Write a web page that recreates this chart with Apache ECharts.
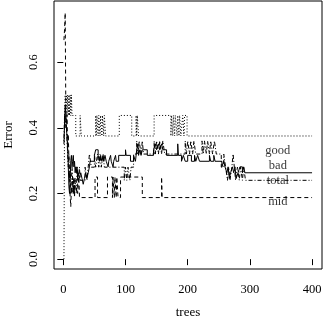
<!DOCTYPE html>
<html>
<head>
<meta charset="utf-8">
<script src="https://cdn.jsdelivr.net/npm/echarts@6/dist/echarts.min.js"></script>
<style>
  html, body { margin: 0; padding: 0; background: #fff; }
  #chart { width: 325px; height: 324px; }
</style>
</head>
<body>
<div id="chart"></div>
<script>
// change points [tree, error]: the value holds from this tree until the next point
const goodErr = [
  [1, 0], [2, 0.444], [3, 0.5], [4, 0.45], [5, 0.5], [6, 0.444], [7, 0.5], [8, 0.4375],
  [9, 0.5], [10, 0.4375], [11, 0.5], [12, 0.4375], [13, 0.5], [14, 0.4375], [20, 0.375],
  [27, 0.4375], [29, 0.375], [52, 0.4375], [53, 0.375], [54, 0.4375], [56, 0.375],
  [57, 0.4375], [59, 0.375], [60, 0.4375], [62, 0.375], [63, 0.4375], [65, 0.375],
  [66, 0.4375], [68, 0.375], [90, 0.4375], [110, 0.375], [117, 0.4375], [118, 0.375],
  [119, 0.4375], [121, 0.375], [146, 0.4375], [173, 0.375], [174, 0.4375], [176, 0.375],
  [177, 0.4375], [179, 0.375], [180, 0.4375], [183, 0.375], [184, 0.4375], [186, 0.375],
  [187, 0.4375], [189, 0.375], [192, 0.4375], [194, 0.375], [195, 0.4375], [199, 0.375],
  [400, 0.375]
]

const badErr = [
  [1, 0.35], [2, 0.42], [3, 0.47], [4, 0.44], [5, 0.4], [6, 0.37], [7, 0.33], [8, 0.28],
  [9, 0.22], [10, 0.2], [11, 0.24], [12, 0.3], [13, 0.316], [14, 0.281], [15, 0.298],
  [16, 0.316], [17, 0.281], [18, 0.298], [19, 0.263], [20, 0.281], [21, 0.263], [22, 0.281],
  [23, 0.246], [24, 0.263], [26, 0.246], [28, 0.263], [30, 0.246], [32, 0.228], [34, 0.246],
  [36, 0.263], [38, 0.246], [40, 0.263], [42, 0.281], [43, 0.298], [50, 0.316], [52, 0.333],
  [56, 0.316], [58, 0.298], [60, 0.316], [62, 0.298], [64, 0.316], [65, 0.298], [67, 0.316],
  [69, 0.298], [72, 0.281], [73, 0.298], [76, 0.316], [77, 0.298], [80, 0.281], [81, 0.298],
  [84, 0.316], [85, 0.298], [89, 0.316], [100, 0.333], [101, 0.316], [108, 0.298],
  [113, 0.316], [116, 0.298], [118, 0.333], [120, 0.351], [121, 0.316], [123, 0.333],
  [125, 0.316], [127, 0.333], [135, 0.316], [145, 0.333], [148, 0.351], [150, 0.333],
  [153, 0.351], [155, 0.333], [158, 0.351], [160, 0.333], [166, 0.316], [184, 0.351],
  [185, 0.316], [190, 0.298], [193, 0.316], [196, 0.298], [200, 0.316], [206, 0.298],
  [211, 0.316], [213, 0.298], [216, 0.316], [219, 0.298], [235, 0.316], [237, 0.298],
  [242, 0.316], [244, 0.298], [255, 0.281], [258, 0.298], [260, 0.281], [263, 0.263],
  [265, 0.281], [267, 0.246], [269, 0.263], [272, 0.281], [274, 0.263], [276, 0.281],
  [278, 0.246], [281, 0.263], [284, 0.281], [288, 0.263], [290, 0.281], [292, 0.263],
  [400, 0.263]
]

const totalErr = [
  [1, 0.36], [2, 0.44], [3, 0.4], [4, 0.44], [5, 0.4], [6, 0.36], [7, 0.32], [8, 0.28],
  [9, 0.32], [10, 0.24], [11, 0.28], [12, 0.2], [13, 0.24], [14, 0.28], [15, 0.24],
  [16, 0.2], [17, 0.24], [18, 0.2], [19, 0.24], [21, 0.2], [22, 0.28], [24, 0.24],
  [26, 0.28], [27, 0.24], [35, 0.28], [38, 0.24], [40, 0.28], [42, 0.32], [45, 0.28],
  [50, 0.32], [52, 0.28], [55, 0.32], [57, 0.28], [59, 0.32], [61, 0.28], [64, 0.32],
  [66, 0.28], [98, 0.24], [100, 0.28], [102, 0.24], [104, 0.28], [107, 0.24], [109, 0.28],
  [113, 0.32], [118, 0.36], [120, 0.32], [122, 0.36], [125, 0.32], [127, 0.36], [129, 0.32],
  [146, 0.36], [148, 0.32], [150, 0.36], [153, 0.32], [155, 0.36], [158, 0.32], [160, 0.36],
  [163, 0.32], [196, 0.36], [198, 0.32], [200, 0.36], [203, 0.32], [205, 0.36], [208, 0.32],
  [210, 0.36], [213, 0.32], [223, 0.36], [225, 0.32], [227, 0.36], [230, 0.32], [232, 0.36],
  [235, 0.32], [237, 0.36], [240, 0.32], [243, 0.36], [246, 0.32], [254, 0.28], [258, 0.32],
  [261, 0.28], [264, 0.24], [266, 0.28], [268, 0.24], [271, 0.28], [273, 0.32], [275, 0.28],
  [277, 0.24], [280, 0.28], [283, 0.24], [285, 0.28], [288, 0.24], [290, 0.28], [293, 0.24],
  [400, 0.24]
]

const midErr = [
  [1, 0.667], [2, 0.7], [3, 0.75], [4, 0.46], [5, 0.4], [6, 0.44], [7, 0.33], [8, 0.38],
  [9, 0.3], [10, 0.25], [11, 0.19], [12, 0.16], [13, 0.22], [14, 0.2], [15, 0.25],
  [16, 0.2], [17, 0.25], [18, 0.1875], [19, 0.25], [23, 0.2], [25, 0.25], [26, 0.1875],
  [51, 0.25], [55, 0.1875], [71, 0.25], [79, 0.1875], [80, 0.25], [82, 0.1875], [83, 0.25],
  [85, 0.1875], [86, 0.25], [88, 0.1875], [92, 0.25], [127, 0.1875], [158, 0.25],
  [159, 0.1875], [400, 0.1875]
]

const labelNames = ['good', 'bad', 'total', 'mid']
const labelX = [345, 345, 345, 345]
const labelY = [0.331, 0.285, 0.2385, 0.175]

const xTicks = [0, 100, 200, 300, 400]
const yTicks = [0, 0.2, 0.4, 0.6]

const font = 'Liberation Serif'

function errLine(data, dash) {
  return {
    type: 'line',
    data: data,
    step: 'end',
    showSymbol: false,
    silent: true,
    lineStyle: { color: '#000', width: 1, type: dash }
  }
}

const chart = echarts.init(document.getElementById('chart'), null, { renderer: 'canvas' })

chart.setOption({
  animation: false,
  backgroundColor: '#fff',
  grid: {
    left: 54, right: 3, top: 1, bottom: 55,
    outerBoundsMode: 'none',
    containLabel: false,
    show: true, borderColor: '#000', borderWidth: 1
  },
  xAxis: {
    type: 'value',
    min: -15, max: 416,
    name: 'trees', nameLocation: 'middle', nameGap: 37,
    nameTextStyle: { color: '#000', fontFamily: font, fontSize: 13 },
    axisLine: { show: false },
    splitLine: { show: false },
    axisTick: { show: true, length: 6, customValues: xTicks, lineStyle: { color: '#000' } },
    axisLabel: {
      customValues: xTicks, margin: 14,
      color: '#000', fontFamily: font, fontSize: 12.5
    }
  },
  yAxis: {
    type: 'value',
    min: -0.03, max: 0.786,
    name: 'Error', nameLocation: 'middle', nameGap: 39, nameRotate: 90,
    nameTextStyle: { color: '#000', fontFamily: font, fontSize: 13 },
    axisLine: { show: false },
    splitLine: { show: false },
    axisTick: { show: true, length: 6, customValues: yTicks, lineStyle: { color: '#000' } },
    axisLabel: {
      customValues: yTicks, margin: 14, rotate: 90,
      color: '#000', fontFamily: font, fontSize: 12.5,
      formatter: v => v.toFixed(1)
    }
  },
  series: [
    errLine(goodErr, [1, 2]),
    errLine(badErr, 'solid'),
    errLine(totalErr, [1, 2, 4, 2]),
    errLine(midErr, [4, 3]),
    {
      type: 'scatter',
      silent: true,
      symbolSize: 0,
      z: 10,
      data: labelNames.map((n, i) => [labelX[i], labelY[i], n]),
      label: {
        show: true, position: 'inside',
        formatter: p => p.data[2],
        color: '#000', fontFamily: font, fontSize: 12.5
      }
    }
  ]
})
</script>
</body>
</html>
